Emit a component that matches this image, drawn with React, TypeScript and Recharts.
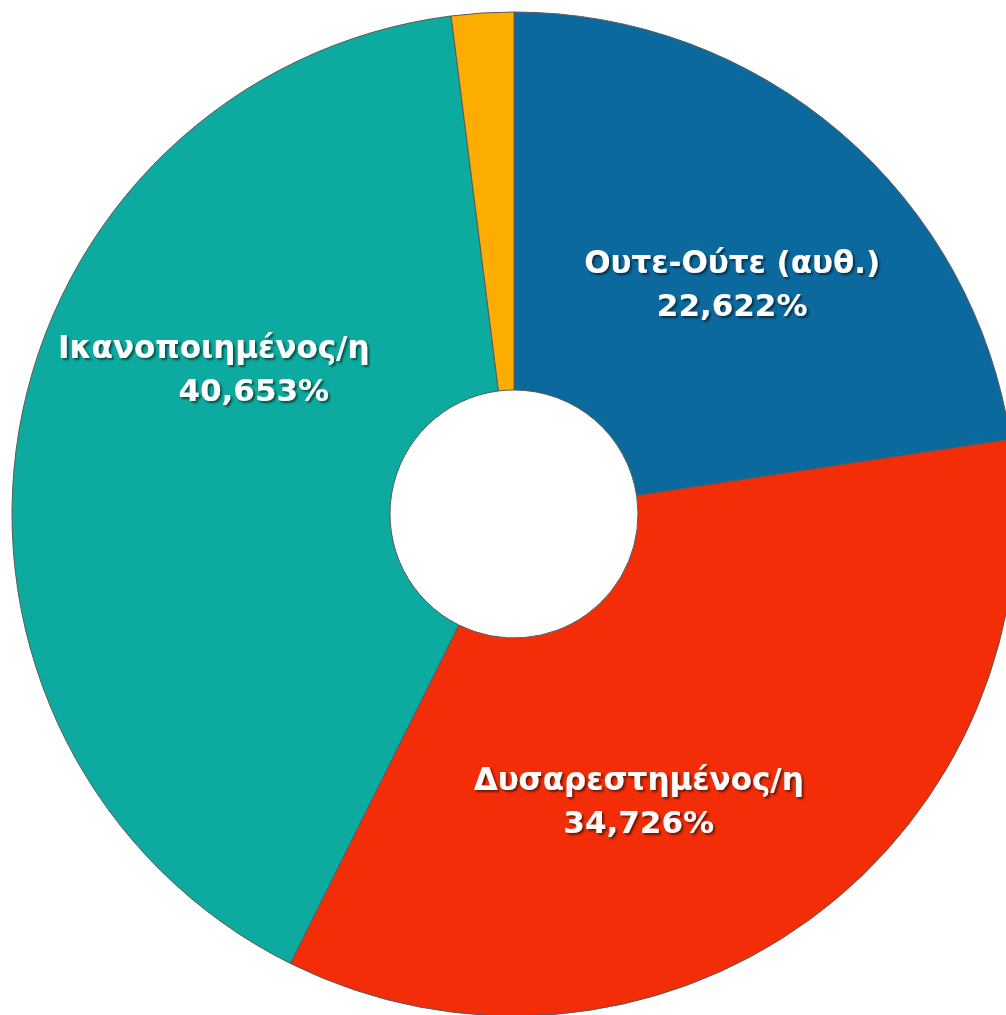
import { PieChart, Pie, Cell } from 'recharts';

const categories = ['Ουτε-Ούτε (αυθ.)', 'Δυσαρεστημένος/η', 'Ικανοποιημένος/η', 'Άλλο'];
const shares = [22.622, 34.726, 40.653, 1.999];
const colors = ['#0C699E', '#F22D08', '#0DAB9F', '#FDAC02'];
const showLabel = [true, true, true, false];

// small nudges so the labels sit where the original put them
const labelAngleShift = [-2.6, -12.5, -17.9, 0];
const labelRadius = [318, 312, 316, 0];
const lineShift = [[0, 0], [0, 0], [-20, 20], [0, 0]];

const data = categories.map((name, i) => ({ name, value: shares[i] }));

const RADIAN = Math.PI / 180;

function renderLabel(props: any) {
  const { cx, cy, midAngle, index } = props;
  if (!showLabel[index]) return null;
  const a = (midAngle + labelAngleShift[index]) * RADIAN;
  const x = cx + labelRadius[index] * Math.cos(a);
  const y = cy - labelRadius[index] * Math.sin(a);
  const pct = shares[index].toFixed(3).replace('.', ',') + '%';
  return (
    <g filter="url(#txtShadow)">
      <text
        x={x + lineShift[index][0]}
        y={y - 21}
        textAnchor="middle"
        dominantBaseline="central"
        fill="#fff"
        fontFamily="'DejaVu Sans', sans-serif"
        fontWeight="bold"
        fontSize={31}
      >
        {categories[index]}
      </text>
      <text
        x={x + lineShift[index][1]}
        y={y + 22}
        textAnchor="middle"
        dominantBaseline="central"
        fill="#fff"
        fontFamily="'DejaVu Sans', sans-serif"
        fontWeight="bold"
        fontSize={31}
      >
        {pct}
      </text>
    </g>
  );
}

export default function App() {
  return (
    <div style={{ position: 'absolute', left: 0, top: 0, background: '#fff' }}>
      <PieChart width={1006} height={1015} margin={{ top: 0, right: 0, bottom: 0, left: 0 }}>
        <defs>
          <filter id="txtShadow" x="-20%" y="-50%" width="140%" height="200%">
            <feDropShadow dx="2" dy="2" stdDeviation="1.2" floodColor="#000" floodOpacity="0.55" />
          </filter>
          <filter id="pieShadow" x="-10%" y="-10%" width="120%" height="120%">
            <feDropShadow dx="0" dy="3" stdDeviation="3" floodColor="#000" floodOpacity="0.25" />
          </filter>
        </defs>
        <Pie
          data={data}
          dataKey="value"
          nameKey="name"
          cx={514}
          cy={514}
          innerRadius={124}
          outerRadius={502}
          startAngle={90}
          endAngle={-270}
          stroke="#5a5a5a"
          strokeWidth={1}
          label={renderLabel}
          labelLine={false}
          isAnimationActive={false}
        >
          {data.map((d, i) => (
            <Cell key={d.name} fill={colors[i]} />
          ))}
        </Pie>
      </PieChart>
    </div>
  );
}
